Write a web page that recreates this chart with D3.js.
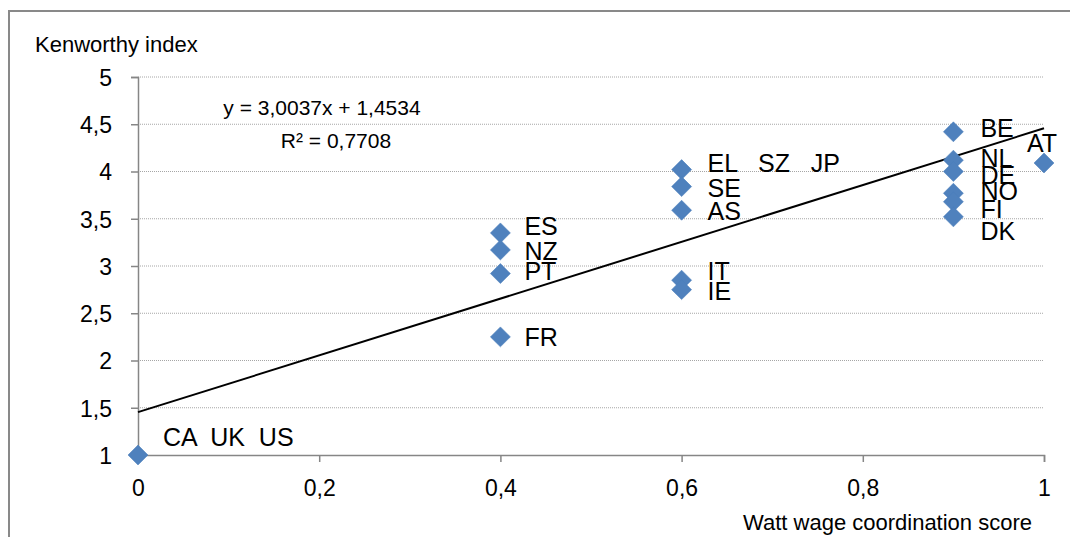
<!DOCTYPE html>
<meta charset="utf-8">
<style>
  body { margin: 0; background: #fff; }
  svg text { font-family: "Liberation Sans", Arial, sans-serif; fill: #000; }
  .tick text { font-size: 23px; }
  .axisTitle { font-size: 22px; }
  .ptLabel { font-size: 25px; white-space: pre; }
  .eq { font-size: 21px; }
</style>
<body>
<script src="https://d3js.org/d3.v7.min.js"></script>
<script>

// data
var labels    = ["CA  UK  US", "ES", "NZ", "PT", "FR", "EL   SZ   JP", "SE", "AS", "IT", "IE",
                 "BE", "NL", "DE", "NO", "FI", "DK", "AT"];
var wattScore = [0, 0.4, 0.4, 0.4, 0.4, 0.6, 0.6, 0.6, 0.6, 0.6,
                 0.9, 0.9, 0.9, 0.9, 0.9, 0.9, 1];
var kenworthy = [1, 3.35, 3.17, 2.92, 2.25, 4.02, 3.84, 3.59, 2.85, 2.75,
                 4.42, 4.12, 4.0, 3.77, 3.68, 3.52, 4.09];
// manual label nudges (px) as placed in the original chart
var labelDx = [25, 24, 24, 24, 24, 26, 26, 26, 26, 26, 27, 27, 27, 27, 27, 27, -17];
var labelDy = [-9, 2, 10, 6, 9, 2, 10, 10, 0, 10, 5, 7, 12, 7, 16, 23, -11];

var xTicks = [0, 0.2, 0.4, 0.6, 0.8, 1];
var yTicks = [1, 1.5, 2, 2.5, 3, 3.5, 4, 4.5, 5];
var slope = 3.0037, intercept = 1.4534, r2 = 0.7708;

var W = 1070, H = 537;
var fmt = function (v) { return String(v).replace(".", ","); };

var svg = d3.select("body").append("svg")
  .attr("width", W)
  .attr("height", H);

// chart border
svg.append("rect")
  .attr("x", 9).attr("y", 11)
  .attr("width", 1200).attr("height", 700)
  .attr("fill", "white")
  .attr("stroke", "#898989")
  .attr("stroke-width", 2);

var x = d3.scaleLinear().domain([0, 1]).range([138, 1044]);
var y = d3.scaleLinear().domain([1, 5]).range([455, 77]);

// gridlines
svg.selectAll(".grid")
  .data(yTicks.slice(1))
  .enter().append("line")
  .attr("x1", x(0)).attr("x2", x(1))
  .attr("y1", function (d) { return y(d); })
  .attr("y2", function (d) { return y(d); })
  .attr("stroke", "#a6a6a6")
  .attr("stroke-width", 1)
  .attr("stroke-dasharray", "1,1");

// axes
var xAxis = svg.append("g")
  .attr("transform", "translate(0," + y(1) + ")")
  .call(d3.axisBottom(x).tickValues(xTicks).tickFormat(fmt).tickSizeOuter(0).tickSize(7).tickPadding(18));
var yAxis = svg.append("g")
  .attr("transform", "translate(" + x(0) + ",0)")
  .call(d3.axisLeft(y).tickValues(yTicks).tickFormat(fmt).tickSizeOuter(0).tickSize(7).tickPadding(19));
[xAxis, yAxis].forEach(function (a) {
  a.select(".domain").attr("stroke", "#868686").attr("stroke-width", 1.5);
  a.selectAll(".tick line").attr("stroke", "#868686").attr("stroke-width", 1.5);
  a.selectAll(".tick text").attr("fill", "#000");
});
yAxis.selectAll(".tick text").attr("dy", "0.36em");

// trend line
svg.append("line")
  .attr("x1", x(0)).attr("y1", y(intercept))
  .attr("x2", x(1)).attr("y2", y(slope + intercept))
  .attr("stroke", "black")
  .attr("stroke-width", 2);

// markers
var pts = d3.range(labels.length);
svg.selectAll(".pt")
  .data(pts)
  .enter().append("path")
  .attr("d", d3.symbol().type(d3.symbolSquare).size(200))
  .attr("transform", function (i) {
    return "translate(" + x(wattScore[i]) + "," + y(kenworthy[i]) + ") rotate(45)";
  })
  .attr("fill", "#4f81bd")
  .attr("stroke", "#4a7ebb")
  .attr("stroke-width", 0.5);

// point labels
svg.selectAll(".ptLabel")
  .data(pts)
  .enter().append("text")
  .attr("class", "ptLabel")
  .attr("x", function (i) { return x(wattScore[i]) + labelDx[i]; })
  .attr("y", function (i) { return y(kenworthy[i]) + labelDy[i]; })
  .text(function (i) { return labels[i]; });

// equation
svg.append("text").attr("class", "eq")
  .attr("x", 322).attr("y", 115).attr("text-anchor", "middle")
  .text("y = " + fmt(slope) + "x + " + fmt(intercept));
svg.append("text").attr("class", "eq")
  .attr("x", 336).attr("y", 148).attr("text-anchor", "middle")
  .text("R² = " + fmt(r2));

// axis titles
svg.append("text").attr("class", "axisTitle")
  .attr("x", 35).attr("y", 52)
  .text("Kenworthy index");
svg.append("text").attr("class", "axisTitle")
  .attr("x", 1032).attr("y", 530).attr("text-anchor", "end")
  .text("Watt wage coordination score");

</script>
</body>
